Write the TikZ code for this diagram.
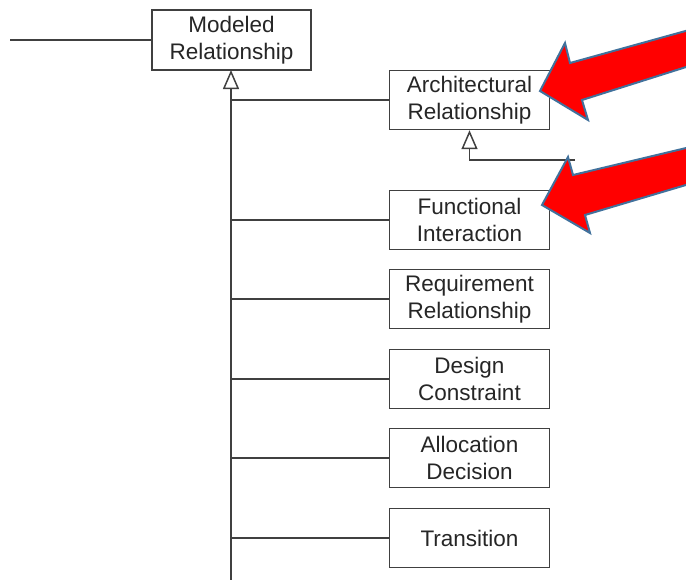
\documentclass[tikz,border=0pt]{standalone}
\usepackage{fontspec}
\setmainfont{Liberation Sans}
\usetikzlibrary{arrows.meta}
\definecolor{linegray}{HTML}{404040}
\definecolor{txtgray}{HTML}{262626}
\definecolor{arrowedge}{HTML}{41719C}
\tikzset{
  cls/.style={draw=linegray, line width=1.4pt, fill=white, minimum width=160pt, minimum height=59pt,
    inner sep=0pt, align=center, text=txtgray, font=\fontsize{22.5}{27}\selectfont},
  conn/.style={draw=linegray, line width=1.6pt},
  gen/.style={conn, -{Triangle[open, width=16pt, length=19pt, line width=1.5pt]}},
  bigarrow/.style={fill=red, draw=arrowedge, line width=2pt, line join=miter}
}
\begin{document}
\begin{tikzpicture}[x=1pt, y=-1pt]
\useasboundingbox (0,0) rectangle (686,579);
\clip (0,0) rectangle (686,579);
\node[cls, minimum width=159pt, minimum height=60pt] (mod) at (231.5,40) {Modeled\\Relationship};
\node[cls] (arch) at (469.5,100) {Architectural\\Relationship};
\node[cls] (func) at (469.5,220) {Functional\\Interaction};
\node[cls] (req) at (469.5,299) {Requirement\\Relationship};
\node[cls] (des) at (469.5,379) {Design\\Constraint};
\node[cls] (alloc) at (469.5,458) {Allocation\\Decision};
\node[cls] (trans) at (469.5,538) {Transition};
\coordinate (lend) at (10,40);
\coordinate (trunkbot) at (231,582);
\coordinate (archend) at (575,160);
\draw[conn] (lend) -- (mod.west);
\draw[gen] (trunkbot) -- (231,70);
\foreach \n in {arch,func,req,des,alloc,trans}{
  \draw[conn] (231,0 |- \n.west) -- (\n.west);
}
\draw[gen] (archend) -| (arch.south);
\draw[bigarrow] (540,91) -- (565,43) -- (570,63) -- (700,27) -- (700,62.6) -- (582,100) -- (588,120) -- cycle;
\draw[bigarrow] (542,205) -- (568,157) -- (573,175) -- (700,144.7) -- (700,180.8) -- (585,215) -- (590,233) -- cycle;
\end{tikzpicture}
\end{document}
